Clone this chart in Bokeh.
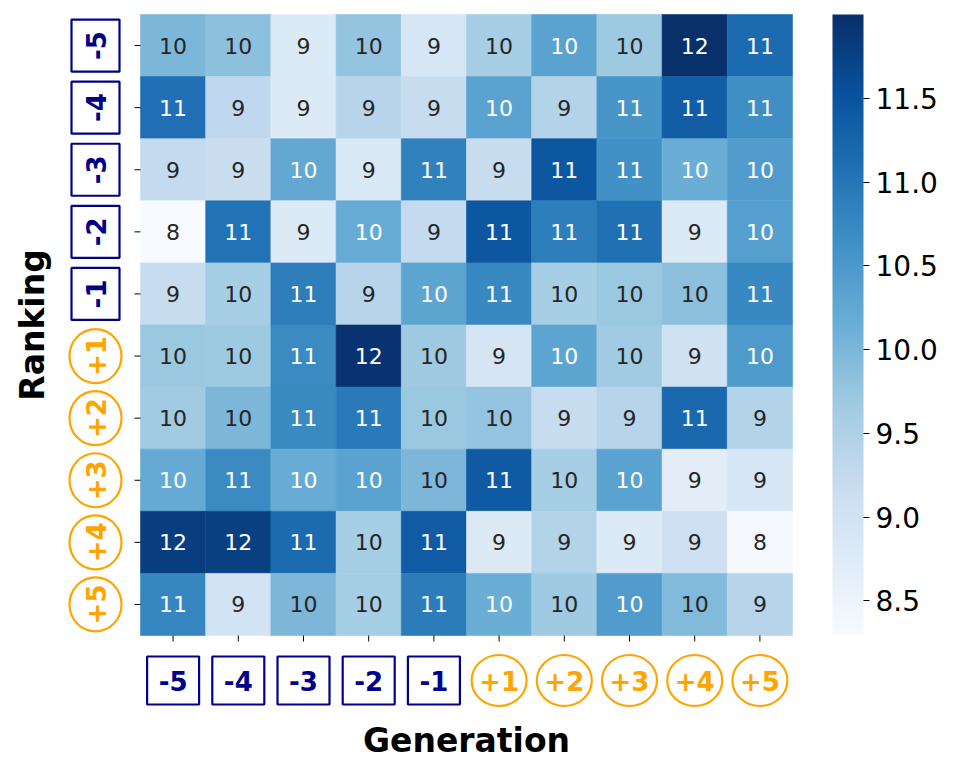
import math
from bokeh.plotting import figure
from bokeh.models import (Range1d, ColumnDataSource, LinearColorMapper, ColorBar,
                          FixedTicker, PrintfTickFormatter)
from bokeh.transform import transform
from bokeh.core.properties import value
from bokeh.embed import file_html
from bokeh.resources import INLINE

# ---------------- data ----------------
generation = ["-5", "-4", "-3", "-2", "-1", "+1", "+2", "+3", "+4", "+5"]
ranking = ["-5", "-4", "-3", "-2", "-1", "+1", "+2", "+3", "+4", "+5"]

row_m5 = [10.00, 9.85, 8.80, 9.78, 8.90, 9.60, 10.35, 9.70, 12.00, 11.15]
row_m4 = [11.10, 9.30, 8.80, 9.40, 9.20, 10.35, 9.45, 10.55, 11.35, 10.65]
row_m3 = [9.25, 9.15, 10.25, 8.85, 10.85, 9.20, 11.45, 10.62, 10.15, 10.45]
row_m2 = [8.30, 11.05, 8.80, 10.20, 9.25, 11.45, 10.90, 11.08, 8.80, 10.40]
row_m1 = [9.20, 9.60, 10.90, 9.40, 10.30, 10.75, 9.60, 9.72, 9.85, 10.75]
row_p1 = [9.72, 9.70, 10.70, 11.95, 9.68, 8.95, 10.30, 9.65, 9.05, 10.48]
row_p2 = [9.65, 10.00, 10.72, 10.95, 9.72, 9.78, 9.20, 9.40, 11.20, 9.45]
row_p3 = [10.22, 10.70, 10.18, 10.35, 10.00, 11.40, 9.60, 10.35, 8.70, 8.90]
row_p4 = [11.80, 11.78, 11.15, 9.60, 11.38, 8.80, 9.45, 8.80, 9.10, 8.35]
row_p5 = [10.78, 9.00, 10.00, 9.60, 10.92, 10.15, 9.68, 10.45, 9.95, 9.40]
rows_values = [row_m5, row_m4, row_m3, row_m2, row_m1, row_p1, row_p2, row_p3, row_p4, row_p5]

cbar_ticks = [8.5, 9.0, 9.5, 10.0, 10.5, 11.0, 11.5]

# ---------------- style ----------------
BLUES9 = ["#f7fbff", "#deebf7", "#c6dbef", "#9ecae1", "#6baed6",
          "#4292c6", "#2171b5", "#08519c", "#08306b"]


def hex2rgb(h):
    return [int(h[i:i + 2], 16) for i in (1, 3, 5)]


def make_palette(stops, n=256):
    rgb = [hex2rgb(s) for s in stops]
    out = []
    for k in range(n):
        t = k / (n - 1) * (len(stops) - 1)
        i = min(int(t), len(stops) - 2)
        f = t - i
        c = [round(rgb[i][j] + (rgb[i + 1][j] - rgb[i][j]) * f) for j in range(3)]
        out.append("#%02x%02x%02x" % tuple(c))
    return out


PAL = make_palette(BLUES9)
NAVY = "#00008b"
ORANGE = "#ffa500"
FONT = "DejaVu Sans"

W, H = 958, 765
CW, CH = 65.2, 62.1     # cell size in px
HX0, HY0 = 140, 14      # heatmap top-left in figure px

allv = [v for r in rows_values for v in r]
vmin, vmax = min(allv), max(allv)
mapper = LinearColorMapper(palette=PAL, low=vmin, high=vmax)


def lum(hexc):
    out = []
    for c in hex2rgb(hexc):
        c = c / 255
        out.append(c / 12.92 if c <= 0.03928 else ((c + 0.055) / 1.055) ** 2.4)
    return 0.2126 * out[0] + 0.7152 * out[1] + 0.0722 * out[2]


xs, ys, vs, labs, tcs = [], [], [], [], []
for i, r in enumerate(rows_values):
    for j, v in enumerate(r):
        xs.append(j + 0.5)
        ys.append(i + 0.5)
        vs.append(v)
        labs.append(f"{v:.0f}")
        idx = min(255, max(0, int((v - vmin) / (vmax - vmin) * 256)))
        tcs.append("#262626" if lum(PAL[idx]) > 0.408 else "#ffffff")
src = ColumnDataSource(dict(x=xs, y=ys, v=vs, label=labs, tc=tcs))

p = figure(width=W, height=H,
           x_range=Range1d(-HX0 / CW, (W - HX0) / CW),
           y_range=Range1d((H - HY0) / CH, -HY0 / CH),
           min_border=0, output_backend="svg", toolbar_location=None,
           x_axis_location=None, y_axis_location=None)
p.grid.visible = False
p.outline_line_color = None

p.rect(x="x", y="y", width=1, height=1, source=src,
       fill_color=transform("v", mapper), line_color=transform("v", mapper), line_width=0.6)
p.text(x="x", y="y", text="label", text_color="tc", source=src,
       text_font=value(FONT), text_font_size="22px",
       text_align="center", text_baseline="middle")

n = len(generation)
# ticks
p.segment(x0=[-6 / CW] * n, x1=[0] * n, y0=[i + 0.5 for i in range(n)],
          y1=[i + 0.5 for i in range(n)], line_color="black", line_width=1)
p.segment(x0=[j + 0.5 for j in range(n)], x1=[j + 0.5 for j in range(n)],
          y0=[n] * n, y1=[n + 6 / CH] * n, line_color="black", line_width=1)

# tick label boxes
YLX = (95 - HX0) / CW     # y-label centre
XLY = (680 - HY0) / CH    # x-label centre

for k, lab in enumerate(ranking):
    c = k + 0.5
    if lab.startswith("-"):
        p.rect(x=[YLX], y=[c], width=48 / CW, height=52 / CH, fill_color="white",
               line_color=NAVY, line_width=2.2)
        col = NAVY
    else:
        p.ellipse(x=[YLX], y=[c], width=52 / CW, height=54 / CH, fill_color="white",
                  line_color=ORANGE, line_width=2.2)
        col = ORANGE
    p.text(x=[YLX], y=[c], text=[lab], angle=math.pi / 2, text_color=col,
           text_font=value(FONT), text_font_style="bold", text_font_size="26px",
           text_align="center", text_baseline="middle")

for k, lab in enumerate(generation):
    c = k + 0.5
    if lab.startswith("-"):
        p.rect(x=[c], y=[XLY], width=52 / CW, height=48 / CH, fill_color="white",
               line_color=NAVY, line_width=2.2)
        col = NAVY
    else:
        p.ellipse(x=[c], y=[XLY], width=55 / CW, height=51 / CH, fill_color="white",
                  line_color=ORANGE, line_width=2.2)
        col = ORANGE
    p.text(x=[c], y=[XLY], text=[lab], text_color=col,
           text_font=value(FONT), text_font_style="bold", text_font_size="26px",
           text_align="center", text_baseline="middle")

# axis titles
p.text(x=[(32 - HX0) / CW], y=[n / 2], text=["Ranking"], angle=math.pi / 2,
       text_color="black", text_font=value(FONT), text_font_style="bold",
       text_font_size="33px", text_align="center", text_baseline="middle")
p.text(x=[n / 2], y=[(740 - HY0) / CH], text=["Generation"],
       text_color="black", text_font=value(FONT), text_font_style="bold",
       text_font_size="33px", text_align="center", text_baseline="middle")

cb = ColorBar(color_mapper=mapper, location=(832, H - 634), width=31, height=620,
              ticker=FixedTicker(ticks=cbar_ticks),
              formatter=PrintfTickFormatter(format="%.1f"), padding=0, margin=0,
              major_label_text_font=FONT, major_label_text_font_size="28px",
              major_label_text_color="black", major_tick_out=6, major_tick_in=0,
              major_tick_line_color="black", bar_line_color=None,
              border_line_color=None, background_fill_alpha=0,
              label_standoff=6)
p.add_layout(cb, "center")

open("out.html", "w").write(file_html(p, INLINE))
